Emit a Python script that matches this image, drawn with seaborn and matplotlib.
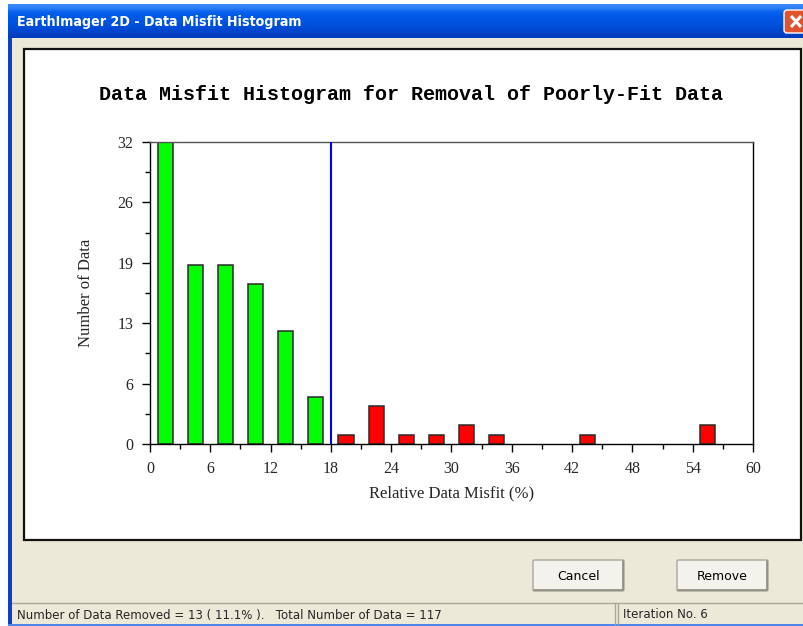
import numpy as np
import pandas as pd
import matplotlib
matplotlib.use("Agg")
import matplotlib.pyplot as plt
from matplotlib.patches import Rectangle, FancyBboxPatch
from matplotlib.colors import LinearSegmentedColormap
import seaborn as sns

# ---------------- data ----------------
bin_centers = [1.5, 4.5, 7.5, 10.5, 13.5, 16.5, 19.5, 22.5, 25.5, 28.5, 31.5, 34.5, 43.5, 55.5]
bin_counts = [32, 19, 19, 17, 12, 5, 1, 4, 1, 1, 2, 1, 1, 2]
bin_status = ["kept"] * 6 + ["removed"] * 8
cutoff = 18
ytick_values = [0, 6.4, 12.8, 19.2, 25.6, 32]
ytick_labels = ["0", "6", "13", "19", "26", "32"]
xtick_values = [0, 6, 12, 18, 24, 30, 36, 42, 48, 54, 60]
xtick_labels = ["0", "6", "12", "18", "24", "30", "36", "42", "48", "54", "60"]
chart_title = "Data Misfit Histogram for Removal of Poorly-Fit Data"
window_title = "EarthImager 2D - Data Misfit Histogram"
status_left = "Number of Data Removed = 13 ( 11.1% ).   Total Number of Data = 117"
status_right = "Iteration No. 6"

df = pd.DataFrame({"misfit": bin_centers, "count": bin_counts, "status": bin_status})

sns.set_theme(style="white")
W, H = 804, 626
fig = plt.figure(figsize=(W / 100, H / 100), dpi=100)
fig.patch.set_facecolor("white")

# ---------------- window chrome (pixel coords) ----------------
bg = fig.add_axes([0, 0, 1, 1], zorder=0)
bg.set_xlim(0, W)
bg.set_ylim(H, 0)
bg.axis("off")

BEIGE = "#ECE9D8"
bg.add_patch(Rectangle((8, 30), W - 8, H - 30, facecolor=BEIGE, edgecolor="none"))
bg.add_patch(Rectangle((8, 20), 4, H - 20, facecolor="#0842C8", edgecolor="none"))
bg.add_patch(Rectangle((8, H - 2), W - 8, 2, facecolor="#4D86E8", edgecolor="none"))
grad = np.array([[0.0], [0.15], [0.3], [0.5], [0.7], [0.85], [1.0]])
cmap = LinearSegmentedColormap.from_list(
    "xp", ["#3D8AF7", "#0A63EE", "#0058E6", "#0055E3", "#0050DC", "#0048D0", "#003DBE"])
bg.imshow(grad, cmap=cmap, aspect="auto", extent=[8, W, 38, 4], interpolation="bicubic", zorder=1)
bg.text(17, 22, window_title, color="white", fontsize=10.2, fontweight="bold",
        family="DejaVu Sans", fontstretch="condensed", va="center", ha="left", zorder=3)
# close button
bg.add_patch(FancyBboxPatch((784, 10), 28, 23, boxstyle="round,pad=0,rounding_size=3",
                            facecolor="#E0532F", edgecolor="white", linewidth=1.0, zorder=2))
bg.plot([791, 801], [16, 27], color="white", lw=2.2, zorder=3, solid_capstyle="butt")
bg.plot([791, 801], [27, 16], color="white", lw=2.2, zorder=3, solid_capstyle="butt")

# white chart panel
bg.add_patch(Rectangle((24, 49), 777, 491, facecolor="white", edgecolor="#111111", linewidth=1.6, zorder=2))

# buttons
def button(x0, x1, y0, y1, label):
    bg.add_patch(FancyBboxPatch((x0, y0), x1 - x0, y1 - y0, boxstyle="round,pad=0,rounding_size=1.5",
                                facecolor="#F3F2EC", edgecolor="#A9A898", linewidth=1.0, zorder=2))
    bg.plot([x0 + 1, x1 - 1, x1 - 1], [y1 - 1, y1 - 1, y0 + 1], color="#8C8A7E", lw=1.2, zorder=2.5)
    bg.text((x0 + x1) / 2, (y0 + y1) / 2 + 0.5, label, fontsize=9, family="DejaVu Sans",
            ha="center", va="center", color="black", zorder=3)

button(533, 624, 560, 591, "Cancel")
button(677, 768, 560, 591, "Remove")

# status bar
bg.plot([12, W], [602.5, 602.5], color="#ACA899", lw=1.0, zorder=2)
bg.plot([615.5, 615.5], [603, 624], color="#ACA899", lw=1.0, zorder=2)
bg.plot([618.5, 618.5], [603, 624], color="#ACA899", lw=1.0, zorder=2)
bg.text(17, 615, status_left, fontsize=8.5, family="DejaVu Sans", ha="left", va="center", zorder=3)
bg.text(623, 615, status_right, fontsize=8.5, family="DejaVu Sans", ha="left", va="center", zorder=3)

# chart title
bg.text(411, 94, chart_title, fontsize=14.4, fontweight="bold", family="Liberation Mono",
        ha="center", va="center", color="black", zorder=3)

# ---------------- chart axes ----------------
L, R, T, B = 150, 753, 142, 444
ax = fig.add_axes([L / W, 1 - B / H, (R - L) / W, (B - T) / H], zorder=2)
ax.set_facecolor("white")

sns.barplot(data=df, x="misfit", y="count", hue="status",
            palette={"kept": "#00FF00", "removed": "#FF0000"}, saturation=1,
            native_scale=True, width=0.5, dodge=False, edgecolor="#2A2A2A",
            linewidth=1.1, legend=False, ax=ax, zorder=2)
ax.axvline(cutoff, color="#0000FF", lw=1.5, zorder=3)

ax.set_xlim(0, 60)
ax.set_ylim(0, 32)
ax.set_xticks(xtick_values)
ax.set_xticklabels(xtick_labels)
ax.set_xticks(np.arange(3, 60, 6), minor=True)
ax.set_yticks(ytick_values)
ax.set_yticklabels(ytick_labels)
ax.set_yticks([3.2, 9.6, 16.0, 22.4, 28.8], minor=True)

for lab in ax.get_xticklabels() + ax.get_yticklabels():
    lab.set_fontfamily("Liberation Serif")
    lab.set_fontsize(11.5)
ax.tick_params(axis="both", which="major", direction="out", length=6, width=1.0,
               color="black", pad=6, bottom=True, left=True)
ax.tick_params(axis="both", which="minor", direction="out", length=3.5, width=1.0,
               color="black", bottom=True, left=True)
for side in ["left", "bottom", "right"]:
    ax.spines[side].set_visible(True)
    ax.spines[side].set_color("black")
    ax.spines[side].set_linewidth(1.0)
ax.spines["top"].set_visible(True)
ax.spines["top"].set_color("#555555")
ax.spines["top"].set_linewidth(1.0)
ax.grid(False)

ax.set_xlabel("Relative Data Misfit (%)", family="Liberation Serif", fontsize=12, labelpad=6)
ax.set_ylabel("Number of Data", family="Liberation Serif", fontsize=12, labelpad=17)

fig.savefig("out.png", dpi=100)
